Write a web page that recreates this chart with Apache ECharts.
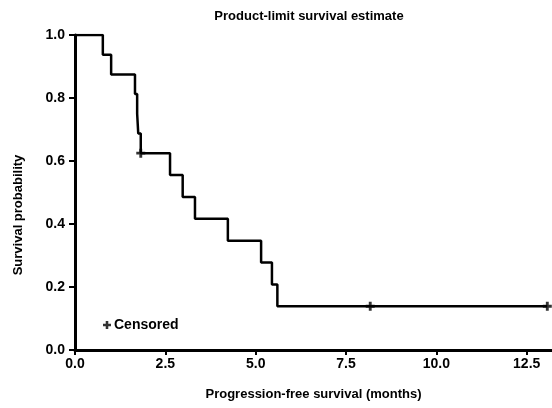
<!DOCTYPE html>
<html>
<head>
<meta charset="utf-8">
<script src="https://cdn.jsdelivr.net/npm/echarts@6/dist/echarts.min.js"></script>
<style>
  html, body { margin: 0; padding: 0; background: #fff; }
  #chart { width: 552px; height: 408px; }
</style>
</head>
<body>
<div id="chart"></div>
<script>
// step points: time (months) and survival after the event
const eventTimes = [0, 0.77, 1.0, 1.66, 1.72, 1.75, 1.82, 2.63, 2.98, 3.32, 4.23, 5.15, 5.45, 5.6, 13.07];
const survival = [1.0, 0.9375, 0.875, 0.8125, 0.75, 0.6875, 0.625, 0.5556, 0.4861, 0.4167, 0.3472, 0.2778, 0.2083, 0.1389, 0.1389];
// censored observations
const censorTimes = [1.82, 8.17, 13.07];
const censorSurv = [0.625, 0.1389, 0.1389];

const xTicks = [0, 2.5, 5, 7.5, 10, 12.5];
const font = 'Liberation Sans, Arial, sans-serif';
const plus = 'path://M3.4,0H6.6V3.4H10V6.6H6.6V10H3.4V6.6H0V3.4H3.4Z';

const chart = echarts.init(document.getElementById('chart'));
chart.setOption({
  animation: false,
  title: {
    text: 'Product-limit survival estimate',
    left: 304,
    top: 5,
    textAlign: 'center',
    textStyle: { fontFamily: font, fontSize: 13, fontWeight: 'bold', color: '#000' }
  },
  legend: {
    left: 98,
    top: 313,
    data: [{ name: 'Censored', icon: plus }],
    itemWidth: 8,
    itemHeight: 8,
    itemGap: 4,
    textStyle: { fontFamily: font, fontSize: 14, fontWeight: 'bold', color: '#000', padding: [0, 0, 0, -2] }
  },
  grid: { left: 75, right: 0, top: 35, bottom: 58 },
  xAxis: {
    type: 'value',
    min: 0,
    max: 13.2,
    interval: 2.5,
    name: 'Progression-free survival (months)',
    nameLocation: 'middle',
    nameGap: 38,
    nameTextStyle: { fontFamily: font, fontSize: 13, fontWeight: 'bold', color: '#000' },
    axisLine: { lineStyle: { color: '#000', width: 3 } },
    axisTick: { length: 5, lineStyle: { color: '#000', width: 2 } },
    axisLabel: {
      fontFamily: font, fontSize: 14, fontWeight: 'bold', color: '#000', margin: 7,
      showMaxLabel: false,
      formatter: v => xTicks.includes(v) ? v.toFixed(1) : ''
    },
    splitLine: { show: false }
  },
  yAxis: {
    type: 'value',
    min: 0,
    max: 1,
    interval: 0.2,
    axisLine: { show: true, lineStyle: { color: '#000', width: 3 } },
    axisTick: { show: true, length: 6, lineStyle: { color: '#000', width: 2 } },
    axisLabel: {
      fontFamily: font, fontSize: 14, fontWeight: 'bold', color: '#000', margin: 10,
      formatter: v => v.toFixed(1)
    },
    splitLine: { show: false }
  },
  graphic: [{
    type: 'text',
    x: 18,
    y: 215,
    rotation: Math.PI / 2,
    style: {
      text: 'Survival probability',
      fontFamily: font, fontSize: 13, fontWeight: 'bold', fill: '#000',
      textAlign: 'center', textVerticalAlign: 'middle'
    }
  }],
  series: [
    {
      name: 'Survival',
      type: 'line',
      step: 'end',
      showSymbol: false,
      lineStyle: { color: '#000', width: 2.5 },
      data: eventTimes.map((t, i) => [t, survival[i]])
    },
    {
      name: 'Censored',
      type: 'scatter',
      symbol: plus,
      symbolSize: 9,
      itemStyle: { color: '#000' },
      data: censorTimes.map((t, i) => [t, censorSurv[i]])
    }
  ]
});
</script>
</body>
</html>
